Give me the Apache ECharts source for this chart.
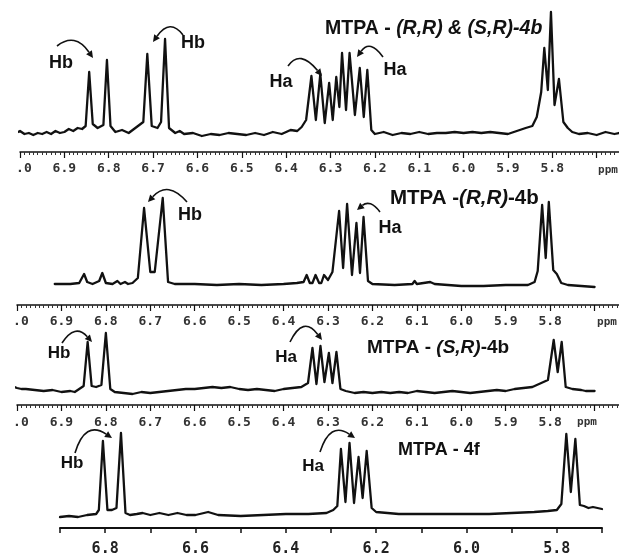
<!DOCTYPE html>
<html>
<head>
<meta charset="utf-8">
<script src="https://cdn.jsdelivr.net/npm/echarts/dist/echarts.min.js"></script>
<style>
    html,body{margin:0;padding:0;background:#fff;}
    #nmr-chart{width:619px;height:556px;}
</style>
</head>
<body>
<div id="nmr-chart"></div>
<script>
// 光谱数据: ppm 与 信号高度 (读自原图, 任意单位)
var ppm1 = [7.01,7.00,6.99,6.98,6.97,6.96,6.95,6.94,6.93,6.92,6.91,6.90,6.89,6.88,6.87,6.86,6.852,6.844,6.836,6.825,6.812,6.804,6.796,6.785,6.77,6.755,6.74,6.728,6.722,6.713,6.703,6.69,6.682,6.673,6.664,6.65,6.64,6.63,6.61,6.59,6.57,6.55,6.53,6.51,6.49,6.47,6.45,6.43,6.41,6.39,6.375,6.365,6.355,6.343,6.333,6.323,6.313,6.303,6.295,6.287,6.28,6.274,6.265,6.257,6.245,6.234,6.225,6.217,6.208,6.20,6.18,6.16,6.14,6.12,6.10,6.08,6.06,6.04,6.02,6.00,5.98,5.96,5.94,5.92,5.90,5.88,5.86,5.845,5.835,5.825,5.818,5.81,5.803,5.795,5.785,5.775,5.765,5.755,5.74,5.72,5.70,5.68,5.66,5.65];
var int1 = [19,21,18,19,17,19,18,20,18,21,19,20,23,21,24,23,26,80,28,24,27,92,26,20,22,19,24,28,30,98,26,24,30,113,24,19,21,18,19,16,18,17,19,18,17,19,17,20,18,22,21,25,32,76,32,78,29,69,32,75,45,99,42,99,37,84,35,82,22,18,20,17,19,18,20,18,19,19,20,19,20,19,20,19,18,21,24,26,35,60,104,62,140,47,73,30,24,20,18,19,17,20,18,19];

var ppm2 = [6.915,6.90,6.88,6.86,6.856,6.849,6.842,6.83,6.815,6.808,6.80,6.785,6.774,6.767,6.757,6.75,6.74,6.728,6.714,6.70,6.69,6.672,6.66,6.645,6.60,6.55,6.50,6.45,6.40,6.37,6.355,6.348,6.341,6.335,6.328,6.32,6.315,6.309,6.30,6.29,6.275,6.266,6.257,6.246,6.236,6.228,6.220,6.21,6.20,6.15,6.11,6.105,6.10,6.07,6.06,6.00,5.95,5.90,5.85,5.835,5.828,5.818,5.81,5.803,5.793,5.785,5.775,5.76,5.73,5.70];
var int2 = [21,21,21,22,24,31,23,21,24,32,22,21,24,21,23,21,22,27,97,33,33,107,23,21,21,20,21,20,21,22,23,30,22,22,30,22,22,30,25,33,94,37,101,30,82,32,88,24,21,20,21,24,21,23,21,19,19,20,20,23,34,100,47,103,35,31,22,20,19,18];

var ppm3 = [7.011,7.00,6.99,6.98,6.96,6.94,6.92,6.90,6.88,6.87,6.86,6.85,6.841,6.832,6.822,6.81,6.800,6.79,6.78,6.76,6.74,6.72,6.70,6.68,6.66,6.64,6.62,6.60,6.58,6.56,6.54,6.52,6.50,6.48,6.46,6.44,6.42,6.40,6.38,6.36,6.345,6.335,6.326,6.317,6.308,6.298,6.29,6.281,6.272,6.26,6.24,6.22,6.20,6.18,6.16,6.14,6.12,6.10,6.08,6.06,6.04,6.02,6.00,5.98,5.96,5.94,5.92,5.90,5.88,5.86,5.84,5.83,5.805,5.792,5.783,5.774,5.765,5.75,5.73,5.72,5.70];
var int3 = [19,17,16,16,15,14,15,13,14,13,16,19,63,19,18,20,72,16,13,12,11,13,12,13,14,15,16,16,17,18,17,18,16,15,16,15,14,16,17,18,22,57,21,59,23,52,22,53,16,14,12,13,12,13,12,13,12,14,13,12,13,14,13,12,13,14,15,14,16,17,18,20,25,65,33,63,18,16,15,14,14];

var ppm4 = [6.90,6.88,6.86,6.84,6.82,6.814,6.805,6.795,6.785,6.775,6.765,6.755,6.745,6.73,6.717,6.70,6.68,6.66,6.64,6.62,6.60,6.572,6.55,6.50,6.45,6.40,6.35,6.31,6.295,6.286,6.278,6.268,6.259,6.249,6.239,6.23,6.221,6.21,6.20,6.15,6.10,6.05,6.00,5.95,5.90,5.85,5.82,5.80,5.79,5.779,5.769,5.759,5.749,5.74,5.73,5.72,5.70];
var int4 = [11,12,11,13,14,18,87,18,18,20,95,15,13,14,15,13,15,13,15,13,13,16,13,12,13,14,14,15,18,22,79,26,85,25,71,30,77,20,16,14,14,14,14,14,15,16,17,18,24,94,36,89,23,22,20,21,19];

// 刻度标签
var smallTicks = ['7.0','6.9','6.8','6.7','6.6','6.5','6.4','6.3','6.2','6.1','6.0','5.9','5.8'];
var bigTicks = ['6.8','6.6','6.4','6.2','6.0','5.8'];

function pairs(xs, ys){
    var out = [];
    for(var i=0;i<xs.length;i++){
        out.push([xs[i], ys[i]]);
    }
    return out;
}

var monoFont = '"DejaVu Sans Mono", monospace';
var sansFont = '"Liberation Sans", Arial, sans-serif';

function smallAxis(gridIndex, margin){
    return {
        type : 'value',
        gridIndex : gridIndex,
        min : 5.6,
        max : 7.0,
        interval : 0.1,
        inverse : true,
        axisLine : {lineStyle : {color : '#111', width : 1.5}},
        axisTick : {length : 6, lineStyle : {color : '#111', width : 1.2}},
        minorTick : {show : true, splitNumber : 10, length : 3, lineStyle : {color : '#333', width : 1}},
        splitLine : {show : false},
        minorSplitLine : {show : false},
        axisLabel : {
            margin : margin,
            fontFamily : monoFont,
            fontSize : 13,
            fontWeight : 'bold',
            color : '#333',
            formatter : function(v){
                var s = v.toFixed(1);
                if(s === '7.0') return ' .0';   // 原图左侧被裁掉
                return smallTicks.indexOf(s) >= 0 ? s : '';
            }
        }
    };
}

function hiddenY(gridIndex, max){
    return {type : 'value', gridIndex : gridIndex, min : 0, max : max, show : false};
}

function lineSeries(idx, data){
    return {
        type : 'line',
        xAxisIndex : idx,
        yAxisIndex : idx,
        data : data,
        showSymbol : false,
        symbol : 'none',
        lineStyle : {color : '#111', width : 2.3, join : 'round', cap : 'round'},
        silent : true,
        animation : false
    };
}

// 弧形箭头
function arcArrow(x1, y1, cx, cy, x2, y2){
    var dx = x2 - cx, dy = y2 - cy;
    var len = Math.sqrt(dx*dx + dy*dy);
    var ux = dx/len, uy = dy/len;
    var hl = 7, hw = 3.5;
    var bx = x2 - ux*hl, by = y2 - uy*hl;
    return [
        {
            type : 'bezierCurve',
            shape : {x1 : x1, y1 : y1, cpx1 : cx, cpy1 : cy, x2 : bx, y2 : by},
            style : {stroke : '#111', lineWidth : 1.6, fill : null}
        },
        {
            type : 'polygon',
            shape : {points : [[x2, y2], [bx - uy*hw, by + ux*hw], [bx + uy*hw, by - ux*hw]]},
            style : {fill : '#111'}
        }
    ];
}

function label(txt, x, y, size){
    return {
        type : 'text',
        x : x, y : y,
        style : {
            text : txt,
            font : 'bold ' + (size || 18) + 'px ' + sansFont,
            fill : '#111',
            align : 'center',
            verticalAlign : 'middle'
        }
    };
}

function title(txt, x, y, size){
    return {
        type : 'text',
        x : x, y : y,
        style : {
            text : txt,
            font : 'bold ' + size + 'px ' + sansFont,
            fill : '#111',
            align : 'left',
            verticalAlign : 'middle',
            rich : {
                n : {fontWeight : 'bold', fontSize : size, fontFamily : sansFont, fill : '#111'},
                i : {fontWeight : 'bold', fontStyle : 'italic', fontSize : size, fontFamily : sansFont, fill : '#111'}
            }
        }
    };
}

function ppmText(x, y){
    return {
        type : 'text',
        x : x, y : y,
        style : {
            text : 'ppm',
            font : 'bold 11px ' + monoFont,
            fill : '#333',
            align : 'center',
            verticalAlign : 'middle'
        }
    };
}

var graphics = [].concat(
    [label('Hb', 61, 63), label('Hb', 193, 43), label('Ha', 281, 82), label('Ha', 395, 70)],
    arcArrow(57, 46, 75, 32, 93, 58),
    arcArrow(183, 35, 170, 18, 153, 42),
    arcArrow(288, 66, 300, 49, 322, 76),
    arcArrow(383, 57, 370, 39, 357, 57),
    [title('{n|MTPA - }{i|(R,R) & (S,R)-4b}', 325, 29, 19.5), ppmText(608, 170)],

    [label('Hb', 190, 215), label('Ha', 390, 228)],
    arcArrow(187, 202, 168, 180, 148, 202),
    arcArrow(380, 212, 370, 199, 357, 210),
    [title('{n|MTPA -}{i|(R,R)}{n|-4b}', 390, 198, 20.5), ppmText(607, 322)],

    [label('Hb', 59, 353, 17), label('Ha', 286, 357, 17)],
    arcArrow(62, 343, 75, 323, 92, 342),
    arcArrow(290, 342, 303, 315, 322, 340),
    [title('{n|MTPA - }{i|(S,R)}{n|-4b}', 367, 348, 19), ppmText(587, 422)],

    [label('Hb', 72, 463, 17), label('Ha', 313, 466, 17)],
    arcArrow(75, 453, 85, 420, 112, 438),
    arcArrow(320, 452, 330, 421, 355, 438),
    [title('{n|MTPA - 4f}', 398, 450, 18)]
);

var nmrChart = echarts.init(document.getElementById('nmr-chart'), null, {renderer : 'canvas'});

var nmrOption = {
    animation : false,
    backgroundColor : '#fff',
    grid : [
        {left : 20, right : -22, top : 0, height : 152, outerBoundsMode : 'none'},
        {left : 17, right : -20, top : 175, height : 130, outerBoundsMode : 'none'},
        {left : 17, right : -20, top : 325, height : 80, outerBoundsMode : 'none'},
        {left : 60, right : 17, top : 425, height : 103, outerBoundsMode : 'none'}
    ],
    xAxis : [
        smallAxis(0, 10),
        smallAxis(1, 10),
        smallAxis(2, 11),
        {
            type : 'value',
            gridIndex : 3,
            min : 5.7,
            max : 6.9,
            interval : 0.1,
            inverse : true,
            axisLine : {lineStyle : {color : '#111', width : 2}},
            axisTick : {length : 5, lineStyle : {color : '#111', width : 1.5}},
            splitLine : {show : false},
            axisLabel : {
                margin : 14,
                fontFamily : monoFont,
                fontSize : 15,
                fontWeight : 'bold',
                color : '#222',
                formatter : function(v){
                    var s = v.toFixed(1);
                    return bigTicks.indexOf(s) >= 0 ? s : '';
                }
            }
        }
    ],
    yAxis : [hiddenY(0, 152), hiddenY(1, 130), hiddenY(2, 80), hiddenY(3, 103)],
    series : [
        lineSeries(0, pairs(ppm1, int1)),
        lineSeries(1, pairs(ppm2, int2)),
        lineSeries(2, pairs(ppm3, int3)),
        lineSeries(3, pairs(ppm4, int4))
    ],
    graphic : graphics
};

nmrChart.setOption(nmrOption);
</script>
</body>
</html>
